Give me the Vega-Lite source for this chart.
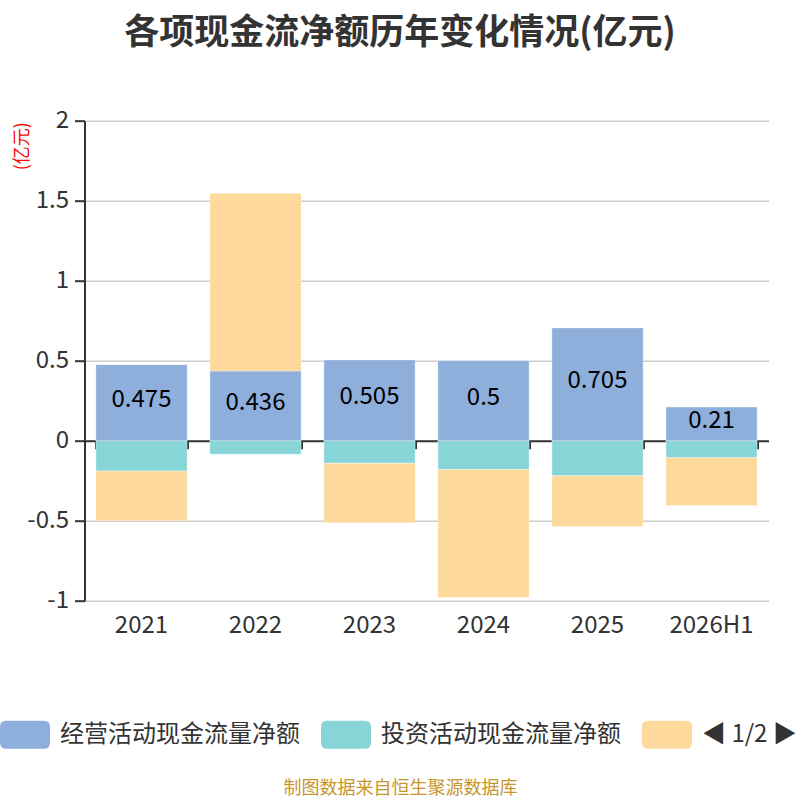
{
  "$schema": "https://vega.github.io/schema/vega-lite/v6.json",
  "width": 684,
  "height": 480,
  "autosize": {"type": "none"},
  "padding": {"left": 84.5, "top": 120.7, "right": 31.5, "bottom": 199.3},
  "config": {
    "font": "Noto Sans CJK SC",
    "view": {"stroke": null}
  },
  "title": {
    "text": "各项现金流净额历年变化情况(亿元)",
    "fontSize": 35,
    "fontWeight": "bold",
    "color": "#333333",
    "anchor": "middle",
    "frame": "group",
    "dx": -26.5,
    "offset": 58
  },
  "data": {
    "values": [
      {"year": "2021", "series": "经营活动现金流量净额", "value": 0.475, "order": 1},
      {"year": "2021", "series": "投资活动现金流量净额", "value": -0.19, "order": 2},
      {"year": "2021", "series": "筹资活动现金流量净额", "value": -0.31, "order": 3},
      {"year": "2022", "series": "经营活动现金流量净额", "value": 0.436, "order": 1},
      {"year": "2022", "series": "投资活动现金流量净额", "value": -0.085, "order": 2},
      {"year": "2022", "series": "筹资活动现金流量净额", "value": 1.11, "order": 3},
      {"year": "2023", "series": "经营活动现金流量净额", "value": 0.505, "order": 1},
      {"year": "2023", "series": "投资活动现金流量净额", "value": -0.141, "order": 2},
      {"year": "2023", "series": "筹资活动现金流量净额", "value": -0.372, "order": 3},
      {"year": "2024", "series": "经营活动现金流量净额", "value": 0.5, "order": 1},
      {"year": "2024", "series": "投资活动现金流量净额", "value": -0.18, "order": 2},
      {"year": "2024", "series": "筹资活动现金流量净额", "value": -0.8, "order": 3},
      {"year": "2025", "series": "经营活动现金流量净额", "value": 0.705, "order": 1},
      {"year": "2025", "series": "投资活动现金流量净额", "value": -0.219, "order": 2},
      {"year": "2025", "series": "筹资活动现金流量净额", "value": -0.318, "order": 3},
      {"year": "2026H1", "series": "经营活动现金流量净额", "value": 0.21, "order": 1},
      {"year": "2026H1", "series": "投资活动现金流量净额", "value": -0.106, "order": 2},
      {"year": "2026H1", "series": "筹资活动现金流量净额", "value": -0.299, "order": 3}
    ]
  },
  "layer": [
    {
      "mark": {"type": "bar", "stroke": "#ffffff", "strokeOpacity": 0.35, "strokeWidth": 1},
      "encoding": {
        "x": {
          "field": "year",
          "type": "nominal",
          "sort": null,
          "scale": {"paddingInner": 0.2, "paddingOuter": 0.1},
          "axis": {
            "orient": "bottom",
            "domain": false,
            "ticks": false,
            "grid": false,
            "labelAngle": 0,
            "labelFontSize": 24,
            "labelColor": "#333333",
            "labelPadding": 13,
            "title": "制图数据来自恒生聚源数据库",
            "titleColor": "#c8962d",
            "titleFontSize": 18,
            "titleFontWeight": "normal",
            "titleX": 315.5,
            "titleY": 188,
            "titleAlign": "center",
            "titleBaseline": "middle"
          }
        },
        "y": {
          "field": "value",
          "type": "quantitative",
          "scale": {"domain": [-1, 2], "nice": false, "zero": false},
          "axis": {
            "title": "(亿元)",
            "titleColor": "#ff0000",
            "titleFontSize": 18,
            "titleFontWeight": "normal",
            "titleAngle": -90,
            "titleX": -62,
            "titleY": 25,
            "titleAlign": "center",
            "titleBaseline": "middle",
            "values": [-1, -0.5, 0, 0.5, 1, 1.5, 2],
            "labelExpr": "datum.value + ''",
            "labelFontSize": 24,
            "labelColor": "#333333",
            "labelPadding": 6,
            "domainColor": "#333333",
            "domainWidth": 2,
            "tickColor": "#333333",
            "tickSize": 10,
            "tickWidth": 2,
            "grid": true,
            "gridColor": "#cccccc",
            "gridWidth": 1.5
          }
        },
        "color": {
          "field": "series",
          "type": "nominal",
          "scale": {
            "domain": ["经营活动现金流量净额", "投资活动现金流量净额", "筹资活动现金流量净额"],
            "range": ["#8eaedb", "#88d5d8", "#fdd99b"]
          },
          "legend": {
            "orient": "none",
            "legendX": -84.5,
            "legendY": 589,
            "direction": "horizontal",
            "title": null,
            "padding": 0,
            "symbolType": "M-0.76,-0.56 L0.76,-0.56 Q1,-0.56 1,-0.32 L1,0.32 Q1,0.56 0.76,0.56 L-0.76,0.56 Q-1,0.56 -1,0.32 L-1,-0.32 Q-1,-0.56 -0.76,-0.56 Z",
            "symbolSize": 2500,
            "symbolStrokeWidth": 0,
            "symbolOpacity": 1,
            "labelFontSize": 24,
            "labelColor": "#333333",
            "labelOffset": 10,
            "columnPadding": 21,
            "labelLimit": 400,
            "labelExpr": "datum.label == '筹资活动现金流量净额' ? '◀  1/2  ▶' : datum.label"
          }
        },
        "order": {"field": "order", "type": "quantitative"}
      }
    },
    {
      "transform": [{"filter": "datum.series == '经营活动现金流量净额'"}],
      "mark": {"type": "text", "fontSize": 24, "color": "#000000", "baseline": "middle", "dy": -3},
      "encoding": {
        "x": {
          "field": "year",
          "type": "nominal",
          "sort": null,
          "axis": {
            "orient": "bottom",
            "offset": -160,
            "labels": false,
            "title": null,
            "grid": false,
            "domain": true,
            "domainColor": "#333333",
            "domainWidth": 2,
            "ticks": true,
            "tickBand": "extent",
            "tickColor": "#333333",
            "tickSize": 8,
            "tickWidth": 2
          }
        },
        "y": {
          "field": "value",
          "type": "quantitative",
          "scale": {"domain": [-2, 4], "nice": false, "zero": false},
          "axis": null
        },
        "text": {"field": "value", "type": "quantitative"}
      }
    }
  ],
  "resolve": {"scale": {"y": "independent"}, "axis": {"x": "independent"}}
}
